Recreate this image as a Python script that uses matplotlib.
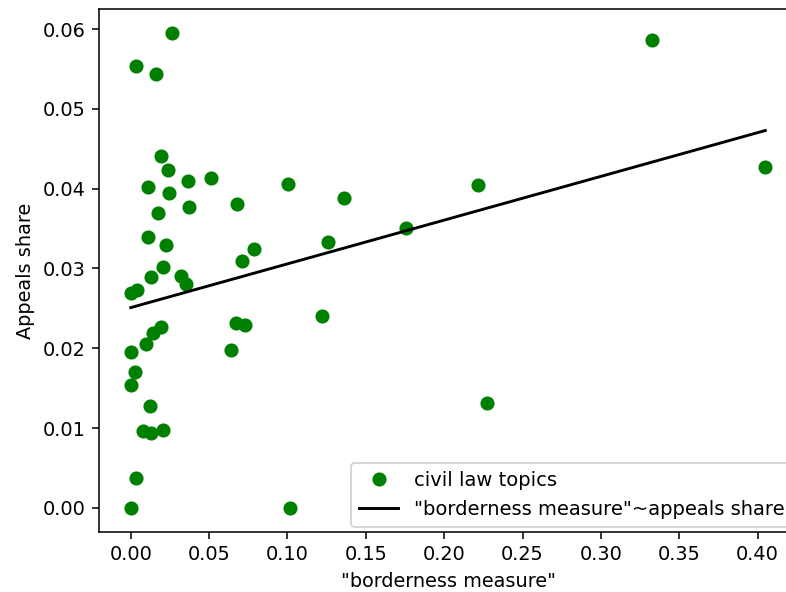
import numpy as np
import matplotlib
matplotlib.use('Agg')
import matplotlib.pyplot as plt

# borderness measure (x) and appeals share (y) per civil law topic
border = [0.0266, 0.0032, 0.0160, 0.0196, 0.0240, 0.0112, 0.0366, 0.0511,
          0.1005, 0.0247, 0.0374, 0.0681, 0.0176, 0.0112, 0.0223, 0.0789,
          0.0709, 0.0206, 0.0132, 0.0321, 0.0355, 0.0000, 0.0042, 0.0196,
          0.0142, 0.0096, 0.0670, 0.0726, 0.0639, 0.0000, 0.0026, 0.0000,
          0.0123, 0.0080, 0.0132, 0.0206, 0.0032, 0.0000, 0.1013, 0.1362,
          0.1256, 0.1756, 0.1220, 0.3327, 0.2213, 0.4049, 0.2273]
appeals = [0.0595, 0.0554, 0.0544, 0.0441, 0.0423, 0.0402, 0.0409, 0.0413,
           0.0406, 0.0394, 0.0377, 0.0381, 0.0369, 0.0340, 0.0329, 0.0324,
           0.0310, 0.0302, 0.0289, 0.0291, 0.0280, 0.0269, 0.0273, 0.0227,
           0.0219, 0.0206, 0.0232, 0.0229, 0.0198, 0.0195, 0.0170, 0.0154,
           0.0128, 0.0096, 0.0094, 0.0098, 0.0038, 0.0000, 0.0000, 0.0388,
           0.0333, 0.0351, 0.0241, 0.0586, 0.0404, 0.0427, 0.0131]

# regression line
intercept = 0.0251
slope = 0.0548

x = np.array(border)
y = np.array(appeals)
xs = np.sort(x)

# the source looks like a default figure at ~139 dpi, cropped on the right
dpi = 139
fig = plt.figure(figsize=(786 / dpi, 592 / dpi), dpi=dpi)
ax = fig.add_axes([0.126, 0.1019, 0.888, 0.8824])
ax.plot(x, y, 'o', color='green', markersize=6.3, label='civil law topics')
ax.plot(xs, intercept + slope * xs, color='black',
        label='"borderness measure"~appeals share')
ax.set_xlabel('"borderness measure"')
ax.set_ylabel('Appeals share')
ax.set_xticks([0.0, 0.05, 0.1, 0.15, 0.2, 0.25, 0.3, 0.35, 0.4])
ax.set_yticks([0.0, 0.01, 0.02, 0.03, 0.04, 0.05, 0.06])
ax.legend(loc='lower right', bbox_to_anchor=(1.007, -0.009), fontsize=10.1)

fig.savefig('out.png', dpi=dpi)
